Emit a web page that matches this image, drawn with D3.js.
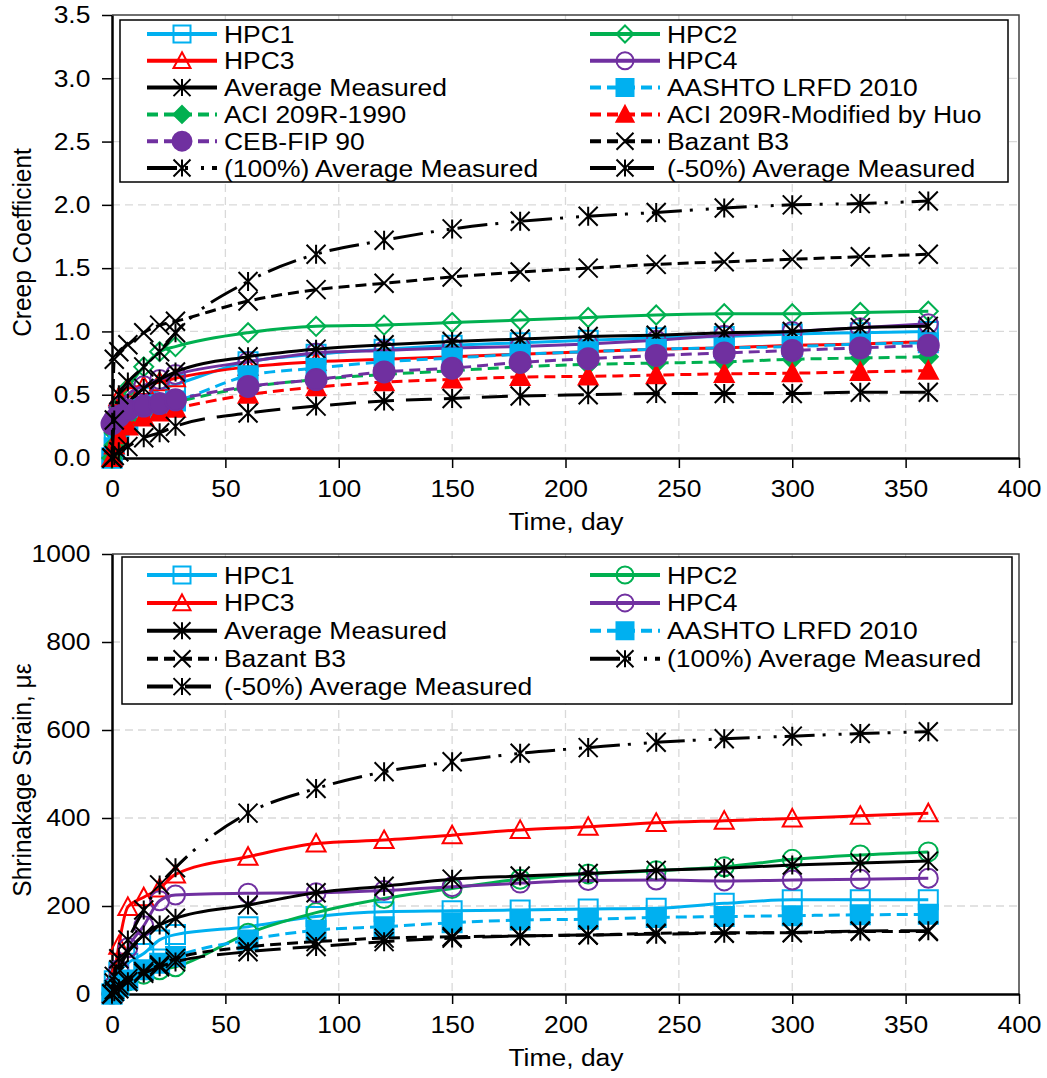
<!DOCTYPE html>
<html>
<head>
<meta charset="utf-8">
<script src="https://cdn.jsdelivr.net/npm/d3@7"></script>
<style>
body { margin: 0; background: #fff; }
text { font-family: "Liberation Sans", Arial, sans-serif; fill: #000; }
</style>
</head>
<body>
<svg id="chart" width="1047" height="1078"></svg>
<script>
// time of each reading, day
const days = [0, 1, 3, 7, 14, 21, 28, 60, 90, 120, 150, 180, 210, 240, 270, 300, 330, 360];

// creep coefficient
const creepHPC1 = [0, 0.12, 0.25, 0.38, 0.48, 0.54, 0.58, 0.76, 0.82, 0.86, 0.89, 0.91, 0.93, 0.95, 0.96, 0.98, 0.99, 1.00];
const creepHPC2 = [0, 0.2, 0.4, 0.55, 0.72, 0.84, 0.88, 0.99, 1.04, 1.05, 1.07, 1.09, 1.11, 1.13, 1.14, 1.14, 1.15, 1.16];
const creepHPC3 = [0, 0.3, 0.48, 0.55, 0.57, 0.6, 0.63, 0.72, 0.76, 0.78, 0.8, 0.82, 0.84, 0.86, 0.87, 0.89, 0.9, 0.92];
const creepHPC4 = [0, 0.25, 0.4, 0.5, 0.57, 0.62, 0.66, 0.76, 0.83, 0.85, 0.87, 0.88, 0.9, 0.93, 0.97, 1.0, 1.03, 1.06];
const creepAvg = [0, 0.15, 0.3, 0.43, 0.55, 0.62, 0.68, 0.80, 0.86, 0.895, 0.92, 0.94, 0.96, 0.97, 0.99, 1.0, 1.03, 1.04];
const creepAashto = [0, 0.08, 0.18, 0.3, 0.38, 0.42, 0.45, 0.65, 0.71, 0.76, 0.79, 0.82, 0.84, 0.86, 0.87, 0.88, 0.9, 0.91];
const creepAci = [0, 0.1, 0.2, 0.3, 0.37, 0.41, 0.44, 0.56, 0.62, 0.66, 0.69, 0.72, 0.74, 0.75, 0.76, 0.78, 0.79, 0.80];
const creepHuo = [0, 0.1, 0.18, 0.25, 0.32, 0.36, 0.39, 0.5, 0.56, 0.6, 0.62, 0.64, 0.645, 0.655, 0.665, 0.67, 0.68, 0.69];
const creepCeb = [0.27, 0.3, 0.33, 0.38, 0.41, 0.43, 0.46, 0.565, 0.62, 0.68, 0.71, 0.755, 0.785, 0.81, 0.83, 0.85, 0.87, 0.89];
const creepBazant = [0, 0.78, 0.84, 0.895, 0.99, 1.05, 1.08, 1.24, 1.33, 1.38, 1.43, 1.47, 1.50, 1.53, 1.55, 1.57, 1.59, 1.61];
const creepPlus100 = [0, 0.3, 0.5, 0.6, 0.72, 0.84, 0.99, 1.395, 1.61, 1.72, 1.81, 1.87, 1.91, 1.94, 1.975, 2.0, 2.01, 2.03];
const creepMinus50 = [0, 0.02, 0.05, 0.09, 0.16, 0.2, 0.25, 0.355, 0.41, 0.45, 0.47, 0.49, 0.50, 0.51, 0.51, 0.51, 0.52, 0.52];

// shrinkage strain, microstrain
const shrinkHPC1 = [0, 30, 50, 70, 92, 123, 135, 153, 176, 187, 189, 191, 193, 195, 206, 214, 214, 214];
const shrinkHPC2 = [0, 10, 20, 30, 45, 55, 62, 138, 185, 217, 240, 261, 273, 280, 289, 306, 316, 323];
const shrinkHPC3 = [0, 40, 110, 198, 220, 240, 272, 312, 342, 350, 361, 373, 380, 389, 394, 399, 405, 411];
const shrinkHPC4 = [0, 20, 55, 105, 155, 212, 225, 229, 230, 235, 244, 252, 258, 259, 257, 259, 261, 263];
const shrinkAvg = [0, 25, 55, 95, 134, 157, 172, 202, 230, 245, 261, 268, 274, 281, 286, 293, 298, 302];
const shrinkAashto = [0, 8, 18, 32, 55, 70, 85, 123, 145, 153, 162, 168, 170, 174, 176, 178, 180, 181];
const shrinkBazant = [0, 10, 20, 35, 51, 66, 81, 107, 119, 127, 130, 132, 134, 138, 139, 139, 142, 142];
const shrinkPlus100 = [0, 40, 80, 123, 191, 248, 287, 411, 467, 505, 528, 547, 560, 572, 580, 586, 592, 596];
const shrinkMinus50 = [0, 5, 12, 28, 47, 62, 73, 96, 108, 119, 127, 132, 134, 136, 138, 140, 143, 144];

const xTicks = [0, 50, 100, 150, 200, 250, 300, 350, 400];
const creepTicks = [0, 0.5, 1.0, 1.5, 2.0, 2.5, 3.0, 3.5];
const shrinkTicks = [0, 200, 400, 600, 800, 1000];

const cyan = '#00B0F0', green = '#00B050', red = '#FF0000', purple = '#7030A0', black = '#000';
const DASH = '11 6', DASHDOTDOT = '30 8 3 13 3 8', LONGDASH = '26 12';
const FONT = 24.5, STRETCH = 1.08;

const svg = d3.select('#chart');

const creepSeries = [
  { name: 'HPC1', values: creepHPC1, color: cyan, dash: null, marker: 'square', filled: false },
  { name: 'HPC2', values: creepHPC2, color: green, dash: null, marker: 'diamond', filled: false },
  { name: 'HPC3', values: creepHPC3, color: red, dash: null, marker: 'triangle', filled: false },
  { name: 'HPC4', values: creepHPC4, color: purple, dash: null, marker: 'circle', filled: false },
  { name: 'Average Measured', values: creepAvg, color: black, dash: null, marker: 'star', filled: false },
  { name: 'AASHTO LRFD 2010', values: creepAashto, color: cyan, dash: DASH, marker: 'square', filled: true },
  { name: 'ACI 209R-1990', values: creepAci, color: green, dash: DASH, marker: 'diamond', filled: true },
  { name: 'ACI 209R-Modified by Huo', values: creepHuo, color: red, dash: DASH, marker: 'triangle', filled: true },
  { name: 'CEB-FIP 90', values: creepCeb, color: purple, dash: DASH, marker: 'circle', filled: true },
  { name: 'Bazant B3', values: creepBazant, color: black, dash: DASH, marker: 'x', filled: false },
  { name: '(100%) Average Measured', values: creepPlus100, color: black, dash: DASHDOTDOT, marker: 'star', filled: false },
  { name: '(-50%) Average Measured', values: creepMinus50, color: black, dash: LONGDASH, marker: 'star', filled: false }
];

const shrinkSeries = [
  { name: 'HPC1', values: shrinkHPC1, color: cyan, dash: null, marker: 'square', filled: false },
  { name: 'HPC2', values: shrinkHPC2, color: green, dash: null, marker: 'circle', filled: false },
  { name: 'HPC3', values: shrinkHPC3, color: red, dash: null, marker: 'triangle', filled: false },
  { name: 'HPC4', values: shrinkHPC4, color: purple, dash: null, marker: 'circle', filled: false },
  { name: 'Average Measured', values: shrinkAvg, color: black, dash: null, marker: 'star', filled: false },
  { name: 'AASHTO LRFD 2010', values: shrinkAashto, color: cyan, dash: DASH, marker: 'square', filled: true },
  { name: 'Bazant B3', values: shrinkBazant, color: black, dash: DASH, marker: 'x', filled: false },
  { name: '(100%) Average Measured', values: shrinkPlus100, color: black, dash: DASHDOTDOT, marker: 'star', filled: false },
  { name: '(-50%) Average Measured', values: shrinkMinus50, color: black, dash: LONGDASH, marker: 'star', filled: false }
];

function marker(g, s, size) {
  const h = size / 2;
  const fill = s.filled ? s.color : 'none';
  if (s.marker === 'circle') {
    g.append('circle').attr('r', s.filled ? h + 1 : h)
      .attr('fill', fill).attr('stroke', s.color).attr('stroke-width', 2);
    return;
  }
  let d;
  if (s.marker === 'square') d = `M${-h},${-h}H${h}V${h}H${-h}Z`;
  if (s.marker === 'diamond') d = `M0,${-h}L${h},0L0,${h}L${-h},0Z`;
  if (s.marker === 'triangle') d = `M0,${-h}L${h},${h * 0.85}L${-h},${h * 0.85}Z`;
  if (s.marker === 'x') d = `M${-h},${-h}L${h},${h}M${-h},${h}L${h},${-h}`;
  if (s.marker === 'star') d = `M${-h},${-h}L${h},${h}M${-h},${h}L${h},${-h}M0,${-h}V${h}`;
  g.append('path').attr('d', d).attr('fill', fill)
    .attr('stroke', s.color).attr('stroke-width', 2);
}

function panel(o) {
  const x = d3.scaleLinear().domain([0, 400]).range([112, 1019]);
  const y = d3.scaleLinear().domain([0, o.yMax]).range([o.bottom, o.top]);
  const g = svg.append('g');

  // gridlines
  g.selectAll('.vg').data(xTicks.slice(1, -1)).join('line')
    .attr('x1', d => x(d)).attr('x2', d => x(d))
    .attr('y1', o.top).attr('y2', o.bottom)
    .attr('stroke', '#d9d9d9').attr('stroke-width', 1.3).attr('stroke-dasharray', '8 5');
  g.selectAll('.hg').data(o.yTicks.slice(1, -1)).join('line')
    .attr('x1', 112).attr('x2', 1019)
    .attr('y1', d => y(d)).attr('y2', d => y(d))
    .attr('stroke', '#d9d9d9').attr('stroke-width', 1.3).attr('stroke-dasharray', '8 5');

  // frame on top and right
  g.append('path').attr('d', `M112,${o.top}H1019V${o.bottom}`)
    .attr('fill', 'none').attr('stroke', '#404040').attr('stroke-width', 1.5);

  const xAxis = g.append('g').attr('transform', `translate(0,${o.bottom})`)
    .call(d3.axisBottom(x).tickValues(xTicks).tickSize(10).tickSizeOuter(0).tickPadding(12));
  const yAxis = g.append('g').attr('transform', 'translate(112,0)')
    .call(d3.axisLeft(y).tickValues(o.yTicks).tickFormat(o.fmt).tickSize(10).tickSizeOuter(0).tickPadding(10));
  [xAxis, yAxis].forEach(a => {
    a.select('.domain').attr('stroke', '#000').attr('stroke-width', 2.5);
    a.selectAll('.tick line').attr('stroke', '#000').attr('stroke-width', 1.5);
    a.selectAll('.tick text').attr('font-size', FONT).attr('font-family', null)
      .attr('transform', `scale(${STRETCH},1)`);
  });

  g.append('text').attr('x', 566 / STRETCH).attr('y', o.bottom + 72)
    .attr('transform', `scale(${STRETCH},1)`)
    .attr('text-anchor', 'middle').attr('font-size', FONT).text('Time, day');
  g.append('text')
    .attr('transform', `translate(31,${(o.top + o.bottom) / 2 + 6}) rotate(-90) scale(1,${STRETCH})`)
    .attr('text-anchor', 'middle').attr('font-size', FONT).text(o.yTitle);

  // series
  const line = d3.line().x(d => x(d[0])).y(d => y(d[1])).curve(d3.curveMonotoneX);
  const plot = g.append('g');
  o.series.forEach(s => {
    const pts = d3.zip(days, s.values);
    plot.append('path').datum(pts).attr('d', line)
      .attr('fill', 'none').attr('stroke', s.color).attr('stroke-width', 3)
      .attr('stroke-dasharray', s.dash);
    pts.forEach(p => {
      marker(plot.append('g').attr('transform', `translate(${x(p[0])},${y(p[1])})`), s, 19);
    });
  });

  // legend
  const L = o.legend;
  g.append('rect').attr('x', L.x).attr('y', L.y).attr('width', L.w).attr('height', L.h)
    .attr('fill', '#fff').attr('stroke', '#000').attr('stroke-width', 1.5);
  o.series.forEach((s, i) => {
    const cx = i % 2 === 0 ? 147 : 590;
    const cy = L.y + L.row0 + Math.floor(i / 2) * L.step;
    const e = g.append('g').attr('transform', `translate(${cx},${cy})`);
    e.append('line').attr('x1', 0).attr('x2', 70)
      .attr('stroke', s.color).attr('stroke-width', 4).attr('stroke-dasharray', s.dash);
    marker(e.append('g').attr('transform', 'translate(35,0)'), s, 17);
    e.append('text').attr('x', 77 / STRETCH).attr('y', 8.5)
      .attr('transform', `scale(${STRETCH},1)`)
      .attr('font-size', FONT).text(s.name);
  });
}

panel({
  top: 15, bottom: 458, yMax: 3.5, yTicks: creepTicks, fmt: d3.format('.1f'),
  yTitle: 'Creep Coefficient', series: creepSeries,
  legend: { x: 120, y: 20, w: 888, h: 162, row0: 14, step: 26.8 }
});
panel({
  top: 554, bottom: 994, yMax: 1000, yTicks: shrinkTicks, fmt: d3.format('d'),
  yTitle: 'Shrinakage Strain, με', series: shrinkSeries,
  legend: { x: 122, y: 557, w: 890, h: 147, row0: 18, step: 27.9 }
});
</script>
</body>
</html>
